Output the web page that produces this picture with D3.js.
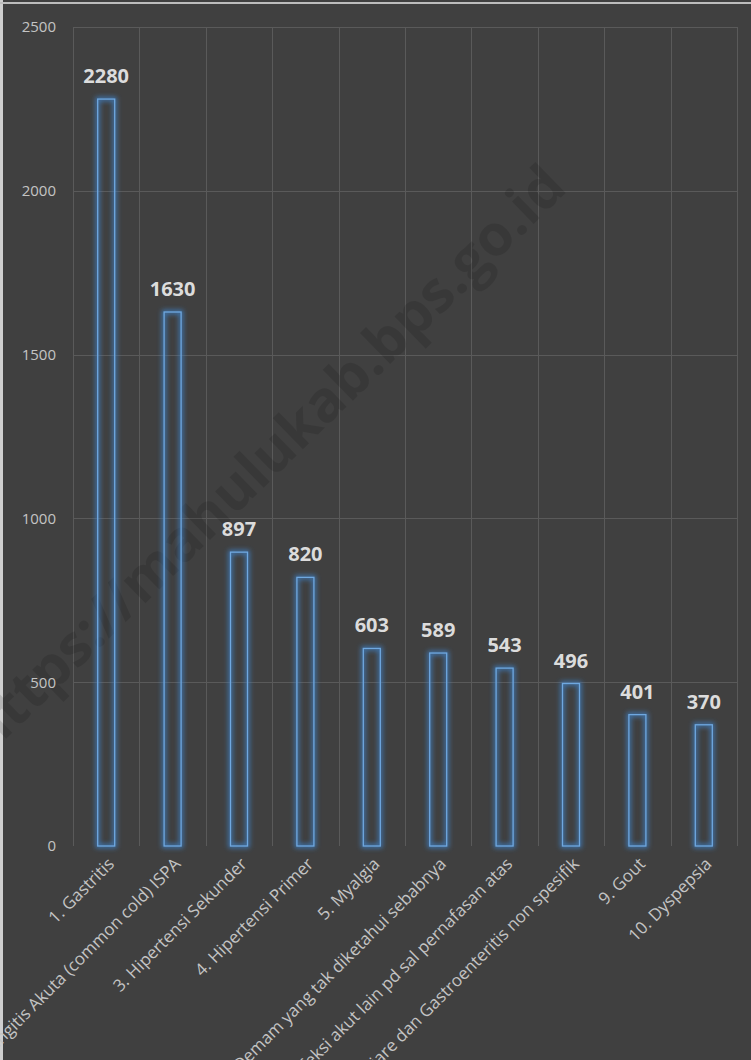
<!DOCTYPE html>
<html>
<head>
<meta charset="utf-8">
<script src="https://cdn.jsdelivr.net/npm/d3@7/dist/d3.min.js"></script>
<style>
  html, body { margin: 0; padding: 0; background: #404040; }
  svg { display: block; }
</style>
</head>
<body>
<div id="chart"></div>
<script>
const categories = [
  "1. Gastritis",
  "2. Nasofaringitis Akuta (common cold) ISPA",
  "3. Hipertensi Sekunder",
  "4. Hipertensi Primer",
  "5. Myalgia",
  "6. Demam yang tak diketahui sebabnya",
  "7. Infeksi akut lain pd sal pernafasan atas",
  "8. Diare dan Gastroenteritis non spesifik",
  "9. Gout",
  "10. Dyspepsia"
];
const values = [2280, 1630, 897, 820, 603, 589, 543, 496, 401, 370];
const yTicks = [0, 500, 1000, 1500, 2000, 2500];
const watermark = "https://mahulukab.bps.go.id";

const W = 751, H = 1060;
const plot = { left: 73, right: 737, top: 27, bottom: 846 };

const svg = d3.select("#chart").append("svg")
  .attr("width", W).attr("height", H);

const defs = svg.append("defs");
const glow = defs.append("filter").attr("id", "glow")
  .attr("x", "-100%").attr("y", "-10%").attr("width", "300%").attr("height", "120%");
glow.append("feGaussianBlur").attr("in", "SourceGraphic").attr("stdDeviation", 2.5);

// background
svg.append("rect").attr("width", W).attr("height", H).attr("fill", "#404040");
// light frame edges (top & left)
svg.append("rect").attr("x", 0).attr("y", 0).attr("width", 3).attr("height", H).attr("fill", "#cfcfcf");
svg.append("rect").attr("x", 0).attr("y", 2).attr("width", W).attr("height", 2).attr("fill", "#bdbdbd");

const x = d3.scaleBand().domain(categories).range([plot.left, plot.right]).padding(0);
const y = d3.scaleLinear().domain([0, 2500]).range([plot.bottom, plot.top]);

const grid = svg.append("g");
grid.selectAll("line.h").data(yTicks.filter(d => d > 0)).join("line")
  .attr("x1", plot.left).attr("x2", plot.right)
  .attr("y1", d => Math.round(y(d)) + 0.5).attr("y2", d => Math.round(y(d)) + 0.5)
  .attr("stroke", "#5a5a5a").attr("stroke-width", 1);
const bounds = categories.map(c => x(c)).concat([plot.right]);
grid.selectAll("line.v").data(bounds).join("line")
  .attr("x1", d => Math.round(d) + 0.5).attr("x2", d => Math.round(d) + 0.5)
  .attr("y1", plot.top).attr("y2", plot.bottom)
  .attr("stroke", "#5a5a5a").attr("stroke-width", 1);

// watermark
svg.append("text")
  .attr("transform", "translate(268,462) rotate(-44.3)")
  .attr("text-anchor", "middle")
  .attr("dominant-baseline", "middle")
  .attr("font-family", "Open Sans, sans-serif")
  .attr("font-weight", "bold")
  .attr("font-size", 57)
  .attr("fill", "#000")
  .attr("fill-opacity", 0.12)
  .text(watermark);

// y axis
const yAxis = d3.axisLeft(y).tickValues(yTicks).tickFormat(d3.format("d")).tickSize(0).tickPadding(0);
const ya = svg.append("g").attr("transform", `translate(56,0)`).call(yAxis);
ya.select(".domain").remove();
ya.selectAll("text")
  .attr("font-family", "Open Sans, sans-serif")
  .attr("font-size", 15)
  .attr("fill", "#c4c4c4");

// bars
const bw = 17;
const bars = svg.append("g");
bars.selectAll("rect.glow").data(values).join("rect")
  .attr("x", (d, i) => x(categories[i]) + x.bandwidth() / 2 - bw / 2)
  .attr("y", d => y(d))
  .attr("width", bw)
  .attr("height", d => y(0) - y(d))
  .attr("fill", "none")
  .attr("stroke", "#3f7fc4")
  .attr("stroke-width", 4)
  .attr("stroke-opacity", 0.9)
  .attr("filter", "url(#glow)");
bars.selectAll("rect.core").data(values).join("rect")
  .attr("x", (d, i) => x(categories[i]) + x.bandwidth() / 2 - bw / 2)
  .attr("y", d => y(d))
  .attr("width", bw)
  .attr("height", d => y(0) - y(d))
  .attr("fill", "none")
  .attr("stroke", "#6fa8e0")
  .attr("stroke-width", 1.3);

// value labels
svg.append("g").selectAll("text").data(values).join("text")
  .attr("x", (d, i) => x(categories[i]) + x.bandwidth() / 2)
  .attr("y", d => y(d) - 16)
  .attr("text-anchor", "middle")
  .attr("font-family", "Open Sans, sans-serif")
  .attr("font-weight", "bold")
  .attr("font-size", 20)
  .attr("fill", "#dcdcdc")
  .text(d => d);

// x axis labels
const xAxis = d3.axisBottom(x).tickSize(0).tickPadding(0);
const xa = svg.append("g").attr("transform", `translate(0,${plot.bottom})`).call(xAxis);
xa.select(".domain").remove();
xa.selectAll("text")
  .attr("text-anchor", "end")
  .attr("font-family", "Open Sans, sans-serif")
  .attr("font-size", 17)
  .attr("fill", "#c4c4c4")
  .attr("y", 0).attr("dy", 0)
  .attr("transform", "translate(9,19) rotate(-45)");
</script>
</body>
</html>
